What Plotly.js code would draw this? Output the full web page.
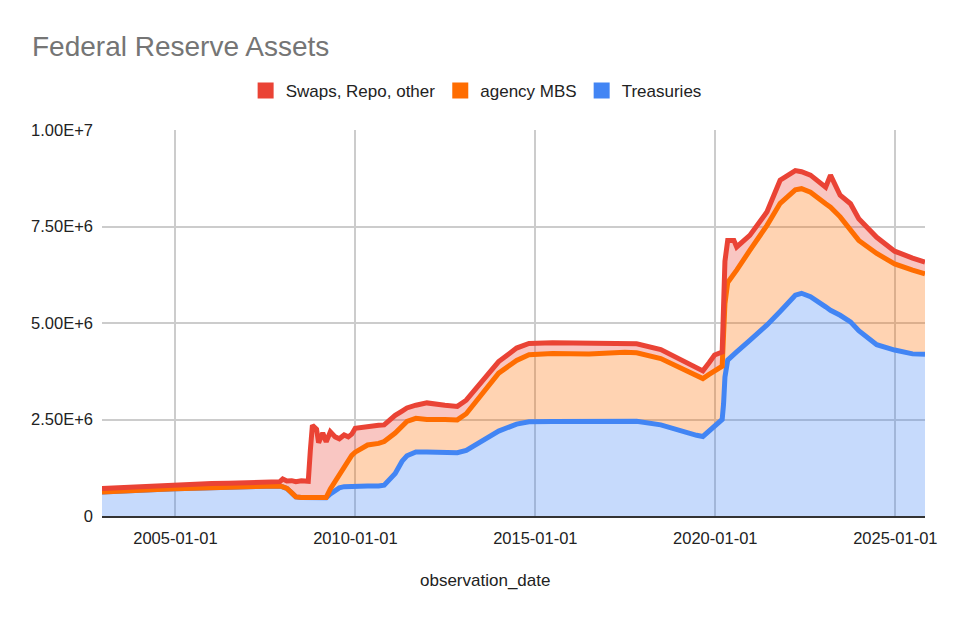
<!DOCTYPE html>
<html>
<head>
<meta charset="utf-8">
<script src="https://cdn.plot.ly/plotly-3.0.1.min.js"></script>
<style>html,body{margin:0;padding:0;background:#fff;}#chart{width:958px;height:625px;}</style>
</head>
<body>
<div id="chart"></div>
<script>
// observation dates (weekly Fed H.4.1 readings, sampled)
const dates = [
  '2002-12-18','2003-06-25','2004-01-07','2004-06-30','2005-01-05','2005-06-29','2006-01-04','2006-06-28',
  '2007-01-03','2007-06-27','2007-11-28','2007-12-26','2008-02-06','2008-03-26','2008-05-07','2008-07-02',
  '2008-09-10','2008-10-01','2008-10-22','2008-12-03','2008-12-24','2009-02-04','2009-03-11','2009-04-22',
  '2009-06-10','2009-07-22','2009-09-09','2009-10-21','2009-11-25','2009-12-30','2010-03-17','2010-05-05',
  '2010-08-25','2010-10-20','2011-02-09','2011-04-20','2011-06-08','2011-09-07','2011-12-28','2012-06-27',
  '2012-10-31','2013-01-30','2013-06-26','2013-12-25','2014-06-25','2014-10-29','2015-06-24','2016-06-29',
  '2017-06-28','2017-10-25','2018-06-27','2018-12-26','2019-06-26','2019-08-28','2019-10-30','2019-12-25',
  '2020-03-11','2020-03-25','2020-04-08','2020-05-06','2020-07-08','2020-08-05','2020-12-16','2021-06-09',
  '2021-10-20','2022-03-23','2022-05-25','2022-08-24','2023-01-25','2023-03-15','2023-06-21','2023-10-04',
  '2023-12-27','2024-06-26','2024-12-25','2025-06-25','2025-10-29'
];
const treasuries = [
  620000,650000,668000,688000,705000,720000,744000,760000,
  778000,788000,780000,755000,715000,600000,495000,478000,
  478000,478000,476000,476000,476000,475000,475000,570000,
  673000,730000,760000,768000,770000,773000,776000,777000,
  777000,800000,1100000,1420000,1560000,1660000,1660000,1650000,
  1640000,1700000,1940000,2200000,2380000,2440000,2450000,2450000,
  2460000,2455000,2360000,2210000,2090000,2060000,2200000,2330000,
  2500000,2900000,3600000,4040000,4200000,4250000,4550000,4950000,
  5300000,5720000,5770000,5680000,5420000,5330000,5200000,5030000,
  4800000,4440000,4300000,4200000,4190000
];
const agencyMBS = [
  0,0,0,0,0,0,0,0,
  0,0,0,0,0,0,0,0,
  0,0,0,0,0,0,5000,130000,
  217000,380000,520000,690000,800000,880000,1014000,1063000,
  1103000,1130000,1050000,890000,890000,870000,840000,850000,
  850000,950000,1200000,1500000,1650000,1740000,1760000,1750000,
  1780000,1775000,1720000,1650000,1520000,1500000,1470000,1420000,
  1380000,1800000,1900000,2010000,2050000,2120000,2330000,2580000,
  2800000,2730000,2710000,2710000,2670000,2670000,2550000,2370000,
  2340000,2360000,2230000,2170000,2080000
];
const swapsRepoOther = [
  95000,90000,102000,92000,100000,92000,96000,88000,
  94000,92000,110000,205000,190000,315000,395000,432000,
  422000,1222000,1874000,1774000,1424000,1675000,1440000,1480000,
  1160000,890000,820000,592000,550000,617000,510000,490000,
  470000,430000,460000,410000,350000,340000,430000,370000,
  350000,350000,310000,300000,320000,290000,280000,270000,
  230000,230000,230000,220000,230000,200000,300000,420000,
  370000,800000,1100000,1090000,890000,600000,390000,350000,
  600000,500000,440000,440000,430000,830000,560000,690000,
  560000,420000,330000,310000,310000
];
const seriesNames = ['Treasuries','agency MBS','Swaps, Repo, other'];
const lineColors = ['#4285F4','#FF6D01','#EA4335'];
const fillColors = ['rgba(66,133,244,0.3)','rgba(255,109,1,0.3)','rgba(234,67,53,0.3)'];
const yTicks = [0,2500000,5000000,7500000,10000000];
const yTickText = ['0','2.50E+6','5.00E+6','7.50E+6','1.00E+7'];
const xTicks = ['2005-01-01','2010-01-01','2015-01-01','2020-01-01','2025-01-01'];

const values = [treasuries, agencyMBS, swapsRepoOther];
const traces = values.map((v,i)=>({
  type:'scatter', mode:'lines', x:dates, y:v, name:seriesNames[i],
  stackgroup:'one', line:{color:lineColors[i], width:5, shape:'linear'},
  fillcolor:fillColors[i], showlegend:false, hoverinfo:'x+y'
}));
// legend entries (red, orange, blue order)
[2,1,0].forEach(i=>traces.push({
  type:'scatter', mode:'markers', x:[null], y:[null], name:seriesNames[i],
  marker:{symbol:'square', size:16, color:lineColors[i]}, showlegend:true
}));

const layout = {
  width:958, height:625,
  paper_bgcolor:'#ffffff', plot_bgcolor:'#ffffff',
  font:{family:'"Liberation Sans", Arial, sans-serif', color:'#222222', size:16.5},
  margin:{l:102, r:33, t:130, b:109},
  title:{text:'Federal Reserve Assets', font:{size:28, color:'#757575'},
         x:32/958, xref:'container', xanchor:'left', y:1-46/625, yref:'container', yanchor:'middle'},
  showlegend:true,
  legend:{orientation:'h', x:0.497, xref:'container', xanchor:'center', y:1-91/625, yref:'container', yanchor:'middle',
          font:{size:17, color:'#222222'}, traceorder:'normal', itemwidth:30},
  xaxis:{type:'date', range:['2002-12-18','2025-10-29'], tickvals:xTicks, ticktext:xTicks,
         showgrid:true, gridcolor:'#cccccc', gridwidth:2, showline:true, linecolor:'#333333', linewidth:2,
         ticks:'', zeroline:false, layer:'above traces', ticklabelstandoff:6,
         tickfont:{size:16.5, color:'#222222'}},
  yaxis:{range:[0,10000000], tickvals:yTicks, ticktext:yTickText, showgrid:true, gridcolor:'#cccccc', gridwidth:2,
         zeroline:false, showline:false, ticks:'', ticklabelstandoff:8, tickfont:{size:16.5, color:'#222222'}},
  annotations:[{text:'observation_date', xref:'paper', yref:'paper', x:(485-102)/823, y:-(580-516)/386,
                xanchor:'center', yanchor:'middle', showarrow:false, font:{size:17, color:'#222222'}}]
};
Plotly.newPlot('chart', traces, layout, {displayModeBar:false, staticPlot:true});
</script>
</body>
</html>
